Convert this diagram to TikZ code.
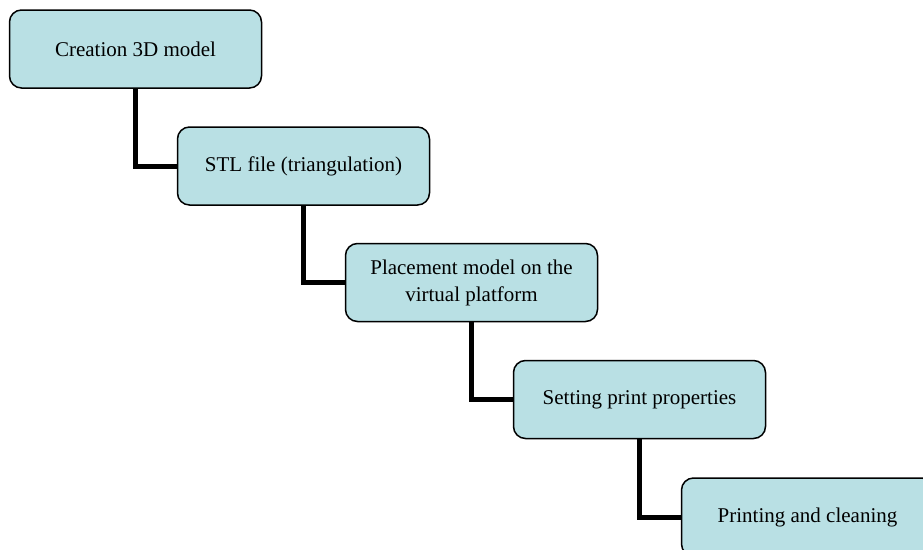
\documentclass[tikz,border=0pt]{standalone}
\usepackage{fontspec}
\setmainfont{Liberation Serif}
\definecolor{stagefill}{RGB}{185,224,228}
\begin{document}
\begin{tikzpicture}[x=1pt,y=-1pt,
  stage/.style={draw=black, line width=1.5pt, rounded corners=12pt, fill=stagefill,
    minimum width=252pt, minimum height=78pt, inner sep=0pt, align=center,
    font=\fontsize{21}{27}\selectfont},
  link/.style={line width=5pt}]
\useasboundingbox (0,0) rectangle (923,549);
\node[stage] (s1) at (135.5,49)    {Creation 3D model};
\node[stage] (s2) at (303.5,166)   {STL file (triangulation)};
\node[stage] (s3) at (471.5,282.5) {Placement model on the\\virtual platform};
\node[stage] (s4) at (639.5,399.5) {Setting print properties};
\node[stage] (s5) at (807.5,517)   {Printing and cleaning};
\draw[link] (s1.south) |- (s2.west);
\draw[link] (s2.south) |- (s3.west);
\draw[link] (s3.south) |- (s4.west);
\draw[link] (s4.south) |- (s5.west);
\end{tikzpicture}
\end{document}
